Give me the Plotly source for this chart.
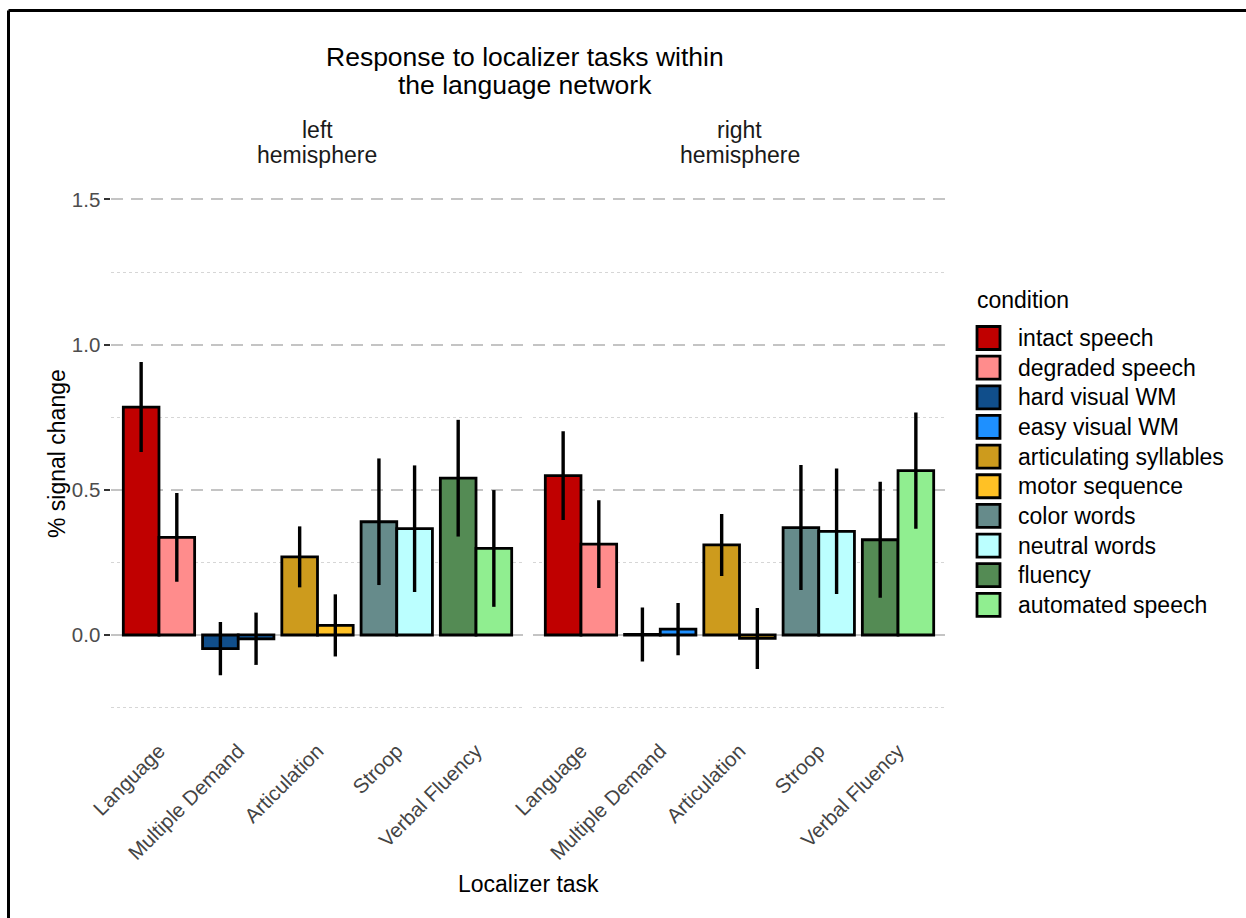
import plotly.graph_objects as go

# ---- data -------------------------------------------------------------
tasks = ["Language", "Multiple Demand", "Articulation", "Stroop", "Verbal Fluency"]
conditions = ["intact speech", "degraded speech", "hard visual WM", "easy visual WM",
              "articulating syllables", "motor sequence", "color words", "neutral words",
              "fluency", "automated speech"]
condition_task = ["Language", "Language", "Multiple Demand", "Multiple Demand",
                  "Articulation", "Articulation", "Stroop", "Stroop",
                  "Verbal Fluency", "Verbal Fluency"]
condition_colors = ["#C00000", "#FF8C8C", "#104E8B", "#1E90FF", "#CD9B1D",
                    "#FFC125", "#668B8B", "#BBFFFF", "#548B54", "#90EE90"]

left_mean = [0.785, 0.336, -0.047, -0.013, 0.269, 0.033, 0.390, 0.366, 0.540, 0.298]
left_sem = [0.155, 0.153, 0.092, 0.090, 0.105, 0.107, 0.218, 0.218, 0.201, 0.201]
right_mean = [0.549, 0.313, 0.002, 0.020, 0.310, -0.012, 0.370, 0.357, 0.328, 0.566]
right_sem = [0.153, 0.151, 0.093, 0.090, 0.107, 0.105, 0.215, 0.216, 0.200, 0.200]

hemisphere_labels = [["left", "hemisphere"], ["right", "hemisphere"]]

# ---- layout geometry (pixels) ----------------------------------------
W, H = 1246, 918
ML, MR, MT, MB = 111, 300, 173, 184
PW, PH = W - ML - MR, H - MT - MB

FONT = "Liberation Sans, Arial, Helvetica, sans-serif"


def px_x(px):
    return (px - ML) / PW


def px_y(py):
    return (H - MB - py) / PH


fig = go.Figure()

panels = [("x", "y", left_mean, left_sem), ("x2", "y2", right_mean, right_sem)]
for xa, ya, means, sems in panels:
    for i, cond in enumerate(conditions):
        fig.add_trace(go.Bar(
            x=[condition_task[i]], y=[means[i]],
            name=cond, showlegend=False,
            offsetgroup="first" if i % 2 == 0 else "second",
            marker=dict(color=condition_colors[i], line=dict(color="black", width=2.8)),
            error_y=dict(type="data", array=[sems[i]], color="black",
                         thickness=3.4, width=0),
            xaxis=xa, yaxis=ya,
        ))

xaxis_common = dict(type="category", categoryorder="array", categoryarray=tasks,
                    range=[-0.6, 4.6], tickangle=-45, showgrid=False, zeroline=False,
                    showline=False, ticks="",
                    tickfont=dict(family=FONT, size=20.5, color="#444444"))
yaxis_common = dict(range=[-0.341, 1.591], tickmode="linear", tick0=0, dtick=0.5,
                    tickformat=".1f", zeroline=False, showline=False,
                    showgrid=True, gridcolor="#C4C4C4", gridwidth=2.2, griddash="12px,8px",
                    minor=dict(dtick=0.25, tick0=0, showgrid=True, gridcolor="#D6D6D6",
                               gridwidth=1, griddash="3px,3px"),
                    tickfont=dict(family=FONT, size=20.5, color="#4D4D4D"))

fig.update_layout(
    width=W, height=H,
    margin=dict(l=ML, r=MR, t=MT, b=MB),
    paper_bgcolor="white", plot_bgcolor="white",
    barmode="group", bargap=0.1, bargroupgap=0,
    xaxis=dict(domain=[0.0005, 0.4941], **xaxis_common),
    xaxis2=dict(domain=[0.5059, 0.9995], **xaxis_common),
    yaxis=dict(anchor="x", ticks="outside", ticklen=6, tickwidth=1.5,
               tickcolor="#333333", **yaxis_common),
    yaxis2=dict(anchor="x2", matches="y", showticklabels=False, ticks="", **yaxis_common),
    font=dict(family=FONT, color="black"),
)

annotations = []

# plot title
for text, cy in [("Response to localizer tasks within", 57), ("the language network", 85)]:
    annotations.append(dict(text=text, x=px_x(525), y=px_y(cy), xref="paper", yref="paper",
                            xanchor="center", yanchor="middle", showarrow=False,
                            font=dict(family=FONT, size=26.5, color="black")))

# facet strips
for dom, lines in zip([[0.0005, 0.4941], [0.5059, 0.9995]], hemisphere_labels):
    for text, cy in zip(lines, [130, 155]):
        annotations.append(dict(text=text, x=(dom[0] + dom[1]) / 2, y=px_y(cy),
                                xref="paper", yref="paper", xanchor="center",
                                yanchor="middle", showarrow=False,
                                font=dict(family=FONT, size=23, color="#1A1A1A")))

# axis titles
annotations.append(dict(text="% signal change", x=px_x(57), y=px_y(454), xref="paper",
                        yref="paper", textangle=-90, xanchor="center", yanchor="middle",
                        showarrow=False, font=dict(family=FONT, size=23, color="black")))
annotations.append(dict(text="Localizer task", x=0.5, y=px_y(884), xref="paper",
                        yref="paper", xanchor="center", yanchor="middle",
                        showarrow=False, font=dict(family=FONT, size=23, color="black")))

# legend
shapes = []
annotations.append(dict(text="condition", x=px_x(975), y=px_y(300), xref="paper",
                        yref="paper", xanchor="left", yanchor="middle", showarrow=False,
                        font=dict(family=FONT, size=23, color="black")))
for i, cond in enumerate(conditions):
    cy = 338 + 29.65 * i
    shapes.append(dict(type="rect", xref="paper", yref="paper",
                       x0=px_x(977), x1=px_x(1000), y0=px_y(cy + 11.5), y1=px_y(cy - 11.5),
                       fillcolor=condition_colors[i], line=dict(color="black", width=2.8)))
    annotations.append(dict(text=cond, x=px_x(1016), y=px_y(cy), xref="paper",
                            yref="paper", xanchor="left", yanchor="middle",
                            showarrow=False,
                            font=dict(family=FONT, size=23, color="black")))

# outer frame (top and left edges)
shapes.append(dict(type="line", xref="paper", yref="paper", x0=px_x(8.5), x1=px_x(1250),
                   y0=px_y(10.5), y1=px_y(10.5), line=dict(color="black", width=3)))
shapes.append(dict(type="line", xref="paper", yref="paper", x0=px_x(8.5), x1=px_x(8.5),
                   y0=px_y(10.5), y1=px_y(925), line=dict(color="black", width=3)))

fig.update_layout(annotations=annotations, shapes=shapes)

fig.write_html("out.html")
